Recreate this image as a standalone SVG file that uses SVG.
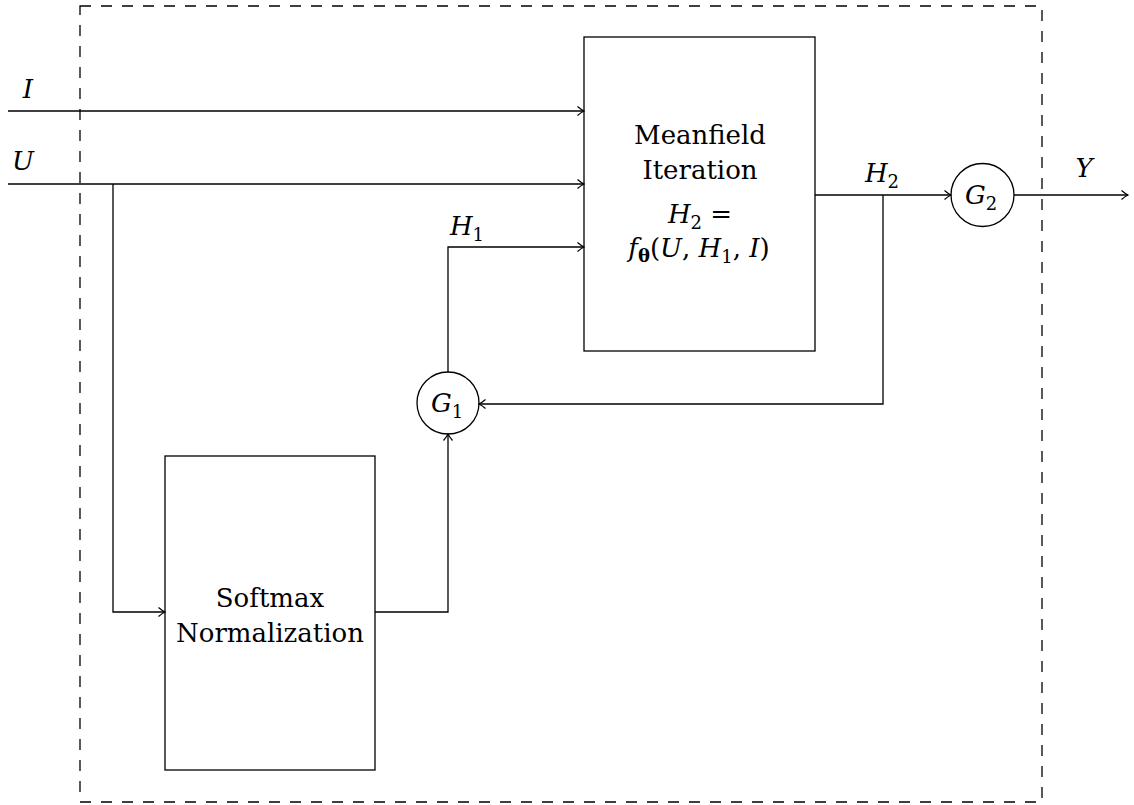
<svg xmlns="http://www.w3.org/2000/svg" width="1134" height="805" viewBox="0 0 1134 805">
  <style>
    .box { fill: none; stroke: #000; stroke-width: 1.3; }
    .wire { fill: none; stroke: #000; stroke-width: 1.3; }
    .frame { fill: none; stroke: #000; stroke-width: 1.3; stroke-dasharray: 11 10; }
    .txt { font-family: "DejaVu Serif", "Liberation Serif", serif; font-size: 26px; fill: #000; text-anchor: middle; }
    .math { font-family: "DejaVu Serif", "Liberation Serif", serif; font-style: italic; font-size: 26px; fill: #000; text-anchor: middle; }
    .sub { font-style: normal; font-size: 18px; }
  </style>
  <defs>
    <marker id="arr" markerWidth="12" markerHeight="12" refX="9" refY="6" orient="auto" markerUnits="userSpaceOnUse">
      <path d="M2.5,1.5 Q6,4.5 9,6 Q6,7.5 2.5,10.5" fill="none" stroke="#000" stroke-width="1.2"/>
    </marker>
  </defs>

  <rect class="frame" x="80" y="6" width="962" height="796"/>

  <g id="meanfield">
    <rect class="box" x="584" y="37" width="231" height="314"/>
    <text class="txt" x="700" y="144">Meanfield</text>
    <text class="txt" x="700" y="179">Iteration</text>
    <text class="math" x="700" y="223">H<tspan class="sub" dy="6">2</tspan><tspan dy="-6" font-style="normal"> =</tspan></text>
    <text class="math" x="699" y="257">f<tspan class="sub" dy="5" font-weight="bold" font-style="italic">θ</tspan><tspan dy="-5" font-style="normal">(</tspan>U<tspan font-style="normal">, </tspan>H<tspan class="sub" dy="6">1</tspan><tspan dy="-6" font-style="normal">, </tspan>I<tspan font-style="normal">)</tspan></text>
  </g>

  <g id="softmax">
    <rect class="box" x="165" y="456" width="210" height="314"/>
    <text class="txt" x="270" y="607">Softmax</text>
    <text class="txt" x="270" y="642">Normalization</text>
  </g>

  <g id="g1">
    <circle class="box" cx="448" cy="403" r="31"/>
    <text class="math" x="447" y="412">G<tspan class="sub" dy="6">1</tspan></text>
  </g>

  <g id="g2">
    <circle class="box" cx="982.5" cy="195" r="31.5"/>
    <text class="math" x="981" y="204">G<tspan class="sub" dy="6">2</tspan></text>
  </g>

  <g id="connectors">
    <line class="wire" x1="8" y1="111" x2="584" y2="111" marker-end="url(#arr)"/>
    <line class="wire" x1="8" y1="184" x2="584" y2="184" marker-end="url(#arr)"/>
    <polyline class="wire" points="113,184 113,612 165,612" marker-end="url(#arr)"/>
    <polyline class="wire" points="375,612 448,612 448,434" marker-end="url(#arr)"/>
    <polyline class="wire" points="448,372 448,247 584,247" marker-end="url(#arr)"/>
    <line class="wire" x1="815" y1="195" x2="951" y2="195" marker-end="url(#arr)"/>
    <polyline class="wire" points="883,195 883,404 479,404" marker-end="url(#arr)"/>
    <line class="wire" x1="1014" y1="195" x2="1128" y2="195" marker-end="url(#arr)"/>
  </g>

  <g id="labels">
    <text class="math" x="28" y="98">I</text>
    <text class="math" x="23" y="170">U</text>
    <text class="math" x="467" y="235">H<tspan class="sub" dy="6">1</tspan></text>
    <text class="math" x="882" y="182">H<tspan class="sub" dy="6">2</tspan></text>
    <text class="math" x="1084" y="177">Y</text>
  </g>
</svg>
